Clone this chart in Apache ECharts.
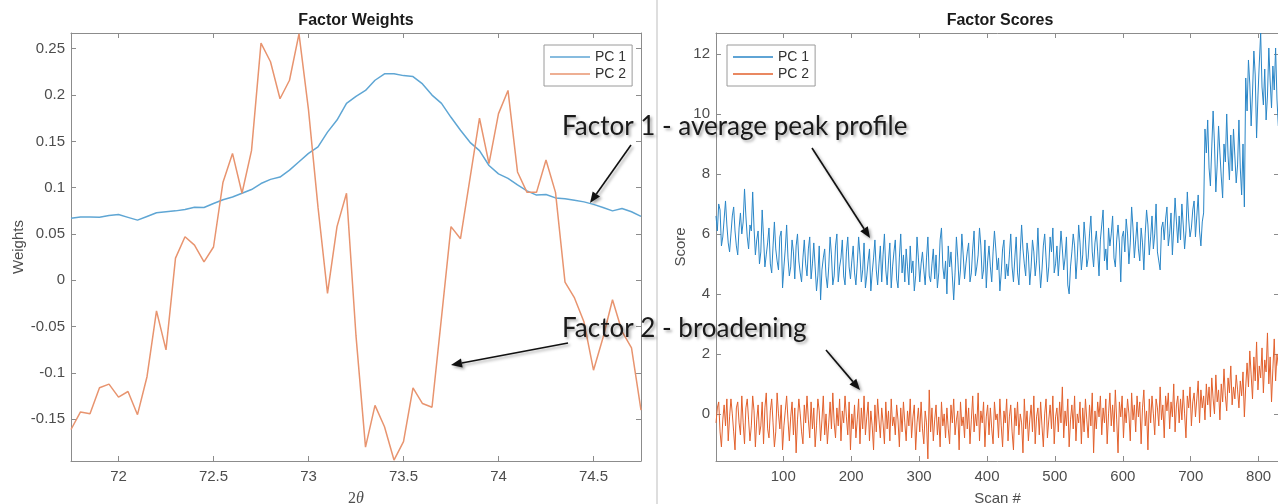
<!DOCTYPE html>
<html>
<head>
<meta charset="utf-8">
<script src="https://cdn.jsdelivr.net/npm/echarts@6/dist/echarts.min.js"></script>
<style>
  html, body { margin: 0; padding: 0; background: #fff; }
  #chart { width: 1278px; height: 504px; }
</style>
</head>
<body>
<div id="chart"></div>
<script>
// left panel: factor weights vs 2-theta
var twoTheta = [71.75, 71.8, 71.85, 71.9, 71.95, 72, 72.05, 72.1, 72.15, 72.2,
  72.25, 72.3, 72.35, 72.4, 72.45, 72.5, 72.55, 72.6, 72.65, 72.7,
  72.75, 72.8, 72.85, 72.9, 72.95, 73, 73.05, 73.1, 73.15, 73.2,
  73.25, 73.3, 73.35, 73.4, 73.45, 73.5, 73.55, 73.6, 73.65, 73.7,
  73.75, 73.8, 73.85, 73.9, 73.95, 74, 74.05, 74.1, 74.15, 74.2,
  74.25, 74.3, 74.35, 74.4, 74.45, 74.5, 74.55, 74.6, 74.65, 74.7, 74.75];

var pc1Weights = [0.067, 0.0685, 0.0685, 0.068, 0.07, 0.071, 0.068, 0.065, 0.069, 0.073,
  0.074, 0.075, 0.0765, 0.079, 0.0787, 0.083, 0.087, 0.09, 0.094, 0.098,
  0.1045, 0.109, 0.1115, 0.119, 0.128, 0.137, 0.144, 0.16, 0.173, 0.191,
  0.1986, 0.205, 0.216, 0.223, 0.223, 0.221, 0.22, 0.212, 0.2, 0.191,
  0.176, 0.162, 0.149, 0.14, 0.124, 0.115, 0.11, 0.103, 0.0966, 0.092,
  0.0927, 0.089, 0.088, 0.0865, 0.0847, 0.082, 0.0787, 0.075, 0.0776, 0.074, 0.069];

var pc2Weights = [-0.161, -0.142, -0.144, -0.116, -0.112, -0.126, -0.12, -0.145, -0.104, -0.033,
  -0.075, 0.024, 0.047, 0.038, 0.02, 0.036, 0.106, 0.137, 0.094, 0.14,
  0.256, 0.236, 0.196, 0.216, 0.266, 0.184, 0.079, -0.014, 0.058, 0.094,
  -0.06, -0.18, -0.135, -0.158, -0.194, -0.174, -0.116, -0.133, -0.137, -0.04,
  0.058, 0.045, 0.11, 0.175, 0.126, 0.18, 0.205, 0.117, 0.095, 0.095,
  0.13, 0.095, -0.002, -0.019, -0.045, -0.097, -0.062, -0.021, -0.055, -0.073, -0.14];

var weightXTicks = [72, 72.5, 73, 73.5, 74, 74.5];
var weightYTicks = [-0.15, -0.1, -0.05, 0, 0.05, 0.1, 0.15, 0.2, 0.25];

// right panel: factor scores, every second scan (1, 3, 5, ... 829)
var pc1Scores = [
  6.6, 6.1, 7.0, 6.8, 5.6, 5.9, 6.5, 7.1, 6.3, 5.7,
  5.4, 6.0, 6.6, 6.9, 6.1, 5.6, 5.3, 6.2, 6.7, 6.0,
  6.4, 7.5, 6.6, 5.9, 5.5, 6.3, 6.1, 7.4, 6.2, 5.3,
  5.8, 6.1, 5.0, 5.4, 6.8, 5.9, 4.9, 5.3, 5.7, 6.2,
  5.0, 4.7, 5.6, 6.4, 5.5, 5.1, 4.8, 5.9, 6.1, 4.2,
  4.9, 5.5, 6.3, 5.2, 4.6, 4.9, 5.8, 5.4, 4.5, 5.6,
  6.0, 5.1, 4.7, 4.4, 5.2, 5.8, 5.0, 4.6, 5.5, 5.9,
  4.5, 5.0, 5.7, 4.9, 4.1, 4.6, 5.6, 3.8, 4.8, 5.2,
  5.5, 4.6, 4.2, 4.9, 5.9, 5.3, 4.3, 4.6, 5.6, 6.0,
  4.4, 4.9, 5.2, 5.8, 4.6, 4.3, 5.4, 5.9, 4.9, 4.5,
  5.1, 5.6, 4.7, 4.3, 5.0, 5.9, 5.3, 4.4, 4.8, 5.7,
  4.2, 4.6, 5.1, 5.5, 4.1, 4.7, 5.2, 5.8, 4.8, 4.3,
  5.0, 5.6, 4.4, 5.3, 6.0, 4.8, 4.3, 5.1, 5.7, 4.2,
  4.9, 5.4, 5.8, 4.5, 4.2, 5.2, 6.0, 4.7, 5.3, 4.4,
  5.5, 4.9, 4.3, 5.6, 4.7, 5.1, 4.1, 4.6, 5.9, 5.2,
  4.4, 5.0, 5.4, 4.8, 4.3, 5.2, 5.9, 4.6, 4.4, 5.0,
  5.5, 4.5, 5.3, 4.2, 4.7, 5.8, 6.2, 4.9, 4.5, 5.1,
  4.0, 5.6, 4.9, 5.4, 4.6, 3.8, 4.7, 5.9, 5.2, 4.3,
  4.8, 6.0, 5.3, 4.5, 5.0, 5.4, 5.7, 4.4, 4.7, 5.5,
  6.1, 4.6, 4.9, 5.3, 6.2, 5.6, 4.5, 4.8, 5.8, 4.2,
  5.1, 5.6, 4.9, 4.4, 5.4, 6.1, 5.5, 4.8, 5.2, 4.1,
  4.7, 5.5, 5.8, 4.5, 5.0, 4.6, 5.3, 6.0, 4.9, 4.4,
  5.2, 5.9, 4.7, 4.3, 5.4, 6.3, 5.5, 5.0, 4.6, 5.7,
  5.3, 4.3, 4.9, 5.8, 5.4, 4.6, 5.1, 6.2, 5.0, 4.2,
  4.8, 5.6, 6.0, 5.2, 4.4, 4.9, 5.9, 5.4, 6.2, 4.7,
  5.0, 5.6, 4.6, 5.3, 6.1, 5.5, 4.8, 5.2, 5.9, 4.3,
  4.0, 4.9, 5.4, 6.0, 5.6, 4.5, 5.2, 6.3, 5.7, 4.8,
  5.3, 6.4, 5.8, 4.9, 5.2, 6.0, 6.6, 5.4, 4.9, 5.7,
  6.1, 5.4, 4.6, 5.8, 6.3, 6.8, 5.1, 5.5, 4.8, 6.2,
  5.6, 6.0, 6.6, 5.2, 4.9, 5.8, 6.3, 5.7, 4.4, 5.9,
  6.1, 5.4, 6.5, 6.0, 5.0, 5.7, 6.9, 6.2, 5.2, 5.8,
  6.4, 5.5, 5.1, 6.2, 5.7, 4.8, 6.0, 6.8, 6.3, 5.3,
  5.9, 6.6, 5.5, 6.0, 7.0, 5.4, 5.1, 4.8, 6.2, 6.4,
  5.8, 6.5, 6.9, 5.6, 6.0, 6.7, 5.3, 6.2, 7.2, 6.4,
  5.7, 6.6, 5.8, 7.0, 6.3, 5.5, 6.1, 7.4, 6.5, 5.9,
  6.2, 6.8, 7.1, 5.9, 6.6, 7.3, 6.1, 5.6, 6.4, 6.7,
  9.5, 8.7, 9.8, 8.2, 7.6, 8.9, 10.1, 9.0, 7.4, 8.3,
  9.6, 8.7, 7.9, 7.2, 9.0, 8.4, 10.0, 8.6, 7.8, 9.3,
  8.1, 9.5, 8.6, 7.7, 8.3, 9.8, 8.2, 7.3, 9.0, 6.9,
  11.2, 10.1, 11.8, 11.0, 9.6, 10.7, 12.1, 11.3, 9.2, 10.6,
  11.7, 12.7, 10.9, 10.3, 11.5, 9.8, 10.6, 12.2, 11.1, 10.2,
  11.6, 10.8, 12.2, 10.5, 9.6];

var pc2Scores = [
  -0.3, 0.2, 0.4, -0.6, -1.1, -0.2, 0.3, -0.4, 0.5, -0.9,
  -0.1, 0.5, 0.0, -0.6, -1.2, 0.2, 0.4, -0.3, -0.7, 0.6,
  -0.3, -1.0, 0.2, 0.5, -0.2, -0.9, -0.4, 0.6, 0.1, -1.1,
  -0.2, 0.3, -0.7, -0.4, 0.4, -1.0, 0.2, 0.7, -0.5, -0.8,
  0.1, 0.5, -0.3, -1.1, -0.6, 0.7, 0.0, -0.5, 0.3, -1.2,
  -0.4, 0.1, 0.6, -0.2, -0.9, -0.1, 0.4, -0.7, 0.2, -1.3,
  -0.2, 0.5, 0.0, -0.6, -1.0, 0.3, -0.3, 0.6, -0.2, -0.8,
  0.4, -0.5, 0.2, -1.1, -0.4, 0.5, 0.1, -0.9, -0.2, 0.6,
  -0.7, 0.0, -1.0, -0.3, 0.4, -0.5, 0.7, -0.3, -0.8, 0.2,
  -0.4, 0.5, -0.9, 0.1, -0.3, 0.6, -0.1, -0.7, 0.4, -1.2,
  0.0, -0.5, 0.3, -0.8, -0.2, 0.5, -1.0, 0.2, -0.5, 0.6,
  -0.7, -0.1, 0.4, -0.9, 0.1, -0.4, -1.2, 0.3, -0.6, 0.5,
  -0.2, -0.8, 0.2, -0.3, -1.0, 0.4, -0.5, 0.1, -0.9, 0.5,
  -0.4, -0.1, -0.7, 0.3, -0.2, -1.1, 0.2, -0.6, 0.4, -0.3,
  -0.9, 0.1, -0.4, 0.5, -0.8, -0.1, 0.3, -1.2, -0.3, 0.2,
  -0.6, 0.4, -0.5, -1.0, 0.1, -0.3, -1.5, 0.8, -0.6, 0.2,
  -0.9, -0.2, 0.3, -0.7, -0.1, -1.1, 0.4, -0.4, 0.0, -0.8,
  0.2, -0.5, -1.0, 0.3, -0.3, 0.5, -0.7, -0.2, 0.1, -1.2,
  0.4, -0.4, -0.1, -0.8, 0.5, -0.5, 0.2, -1.0, -0.2, 0.6,
  -0.6, 0.0, -0.4, 0.7, -0.9, 0.1, -0.3, 0.4, -1.1, -0.1,
  0.3, -0.7, 0.2, -0.5, -1.0, 0.4, -0.2, 0.0, -0.8, 0.5,
  -0.4, -1.1, 0.1, -0.3, 0.5, -0.9, -0.1, 0.3, -0.6, -1.2,
  0.2, -0.4, 0.4, -0.7, 0.0, -0.3, -1.3, 0.5, -0.5, 0.1,
  -0.9, -0.2, 0.3, -0.6, 0.6, -1.0, -0.1, 0.2, -0.7, 0.4,
  -0.4, -1.1, 0.0, 0.5, -0.8, -0.2, 0.3, -0.5, 0.6, -1.0,
  -0.1, 0.2, -0.6, 0.4, -0.3, 0.9, -0.8, 0.1, -0.4, 0.5,
  -1.1, -0.2, 0.3, -0.5, 0.6, -0.9, 0.0, -0.3, 0.4, -1.0,
  0.2, -0.6, 0.5, -0.2, -0.8, 0.3, -0.4, 0.7, -1.3, 0.1,
  -0.5, 0.4, -0.1, 0.6, -0.7, 0.2, -0.3, 0.5, -1.0, 0.0,
  0.7, -0.4, 0.3, -0.6, 0.8, -0.2, -1.3, 0.4, -0.1, 0.6,
  -0.8, 0.2, -0.3, 0.5, 0.0, -0.9, 0.7, -0.2, 0.3, -0.6,
  0.6, -0.1, 0.4, -1.0, 0.2, 0.8, -0.4, 0.1, -1.2, 0.5,
  -0.3, 0.6, 0.0, -0.7, 0.5, 0.2, -0.4, 0.9, -0.2, 0.3,
  -0.8, 0.6, 0.1, 0.7, -0.5, 0.4, -0.1, 1.0, -0.6, 0.3,
  0.6, -0.3, 0.5, -0.2, 0.8, 0.0, -0.8, 0.6, 0.2, 0.9,
  -0.4, 0.4, 0.7, -0.1, 0.5, 1.1, -0.3, 0.8, 0.2, 0.6,
  -0.2, 1.0, 0.3, 0.9, -0.1, 1.2, 0.5, 0.0, 1.3, 0.4,
  0.8, -0.2, 1.0, 0.4, 1.5, 0.6, 0.1, 1.2, 0.7, 1.6,
  0.3, 0.9, 0.5, 1.3, 0.8, 0.2, 1.1, 0.6, 1.4, -0.1,
  0.9, 1.7, 0.9, 2.1, 1.3, 0.5, 1.9, 1.1, 2.4, 0.8,
  1.6, 1.2, 2.2, 0.7, 1.8, 1.4, 2.7, 1.0, 1.9, 0.4,
  1.5, 2.5, 1.1, 2.0, 1.6];

var scoreXTicks = [100, 200, 300, 400, 500, 600, 700, 800];
var scoreYTicks = [0, 2, 4, 6, 8, 10, 12];
var seriesNames = ['PC 1', 'PC 2'];

var scans = [];
for (var i = 0; i < pc1Scores.length; i++) {
    scans.push(1 + 2 * i);
}

function pairs(xs, ys) {
    return xs.map(function (x, k) { return [x, ys[k]]; });
}

var axisGray = '#8c8c8c';
var labelGray = '#4d4d4d';
var tickFont = 'Liberation Sans';

// one axis of the box; mirror axes only carry ticks
function boxAxis(grid, pos, min, max, ticks, withLabels) {
    return {
        type: 'value',
        gridIndex: grid,
        position: pos,
        min: min,
        max: max,
        axisLine: { show: true, onZero: false, lineStyle: { color: axisGray, width: 1 } },
        axisTick: { show: true, inside: true, length: 5, customValues: ticks, lineStyle: { color: axisGray } },
        axisLabel: {
            show: withLabels,
            customValues: ticks,
            color: labelGray,
            fontSize: 15,
            fontFamily: tickFont,
            margin: (pos === 'left' || pos === 'right') ? 6 : 8
        },
        splitLine: { show: false }
    };
}

var xWeights = boxAxis(0, 'bottom', 71.75, 74.75, weightXTicks, true);
xWeights.name = '{a|2}{b|θ}';
xWeights.nameLocation = 'middle';
xWeights.nameGap = 30;
xWeights.nameTextStyle = {
    rich: {
        a: { fontFamily: 'Liberation Serif', fontSize: 16, color: labelGray },
        b: { fontFamily: 'Liberation Serif', fontStyle: 'italic', fontSize: 16, color: labelGray }
    }
};
var yWeights = boxAxis(0, 'left', -0.195, 0.267, weightYTicks, true);
yWeights.name = 'Weights';
yWeights.nameLocation = 'middle';
yWeights.nameGap = 45;
yWeights.nameTextStyle = { fontFamily: tickFont, fontSize: 15, color: labelGray };

var xScores = boxAxis(1, 'bottom', 1, 830, scoreXTicks, true);
xScores.name = 'Scan #';
xScores.nameLocation = 'middle';
xScores.nameGap = 30;
xScores.nameTextStyle = { fontFamily: tickFont, fontSize: 15, color: labelGray };
var yScores = boxAxis(1, 'left', -1.57, 12.7, scoreYTicks, true);
yScores.name = 'Score';
yScores.nameLocation = 'middle';
yScores.nameGap = 28;
yScores.nameTextStyle = { fontFamily: tickFont, fontSize: 15, color: labelGray };

function legendBox(left, colors) {
    return {
        left: left,
        top: 45,
        orient: 'vertical',
        selectedMode: false,
        icon: 'rect',
        itemWidth: 40,
        itemHeight: 1.5,
        itemGap: 3,
        padding: [5, 6, 5, 6],
        backgroundColor: '#fff',
        borderColor: '#9a9a9a',
        borderWidth: 1,
        textStyle: { fontFamily: tickFont, fontSize: 14, color: '#333' },
        data: seriesNames.map(function (n, k) {
            return { name: n, itemStyle: { color: colors[k] } };
        })
    };
}

// arrow drawn as a line plus a filled head
function arrow(x1, y1, x2, y2) {
    var dx = x2 - x1, dy = y2 - y1;
    var len = Math.sqrt(dx * dx + dy * dy);
    var ux = dx / len, uy = dy / len;
    var bx = x2 - ux * 11, by = y2 - uy * 11;
    var shadow = { shadowColor: 'rgba(0,0,0,0.35)', shadowBlur: 3, shadowOffsetX: 2, shadowOffsetY: 2 };
    return {
        type: 'group',
        children: [
            {
                type: 'line',
                shape: { x1: x1, y1: y1, x2: bx, y2: by },
                style: Object.assign({ stroke: '#111', lineWidth: 1.6 }, shadow)
            },
            {
                type: 'polygon',
                shape: { points: [[x2, y2], [bx - uy * 4.5, by + ux * 4.5], [bx + uy * 4.5, by - ux * 4.5]] },
                style: Object.assign({ fill: '#111' }, shadow)
            }
        ]
    };
}

function note(text, x, y) {
    return {
        type: 'text',
        z: 100,
        style: {
            text: text,
            x: x,
            y: y,
            fill: '#1a1a1a',
            font: '26px Lato',
            textVerticalAlign: 'middle',
            textShadowColor: 'rgba(0,0,0,0.35)',
            textShadowBlur: 3,
            textShadowOffsetX: 2,
            textShadowOffsetY: 2
        }
    };
}

function panelTitle(text, x) {
    return {
        type: 'text',
        style: {
            text: text,
            x: x,
            y: 21,
            fill: '#1a1a1a',
            font: 'bold 16px "Liberation Sans"',
            textAlign: 'center',
            textVerticalAlign: 'middle'
        }
    };
}

var leftColors = ['#5fa6d4', '#e8946f'];
var rightColors = ['#2a86c7', '#e2612d'];

var chart = echarts.init(document.getElementById('chart'));
chart.setOption({
    animation: false,
    backgroundColor: '#fff',
    grid: [
        { left: 71, top: 33, width: 570, height: 428, outerBoundsMode: 'none', containLabel: false },
        { left: 716, top: 33, width: 563, height: 428, outerBoundsMode: 'none', containLabel: false }
    ],
    xAxis: [
        xWeights,
        boxAxis(0, 'top', 71.75, 74.75, weightXTicks, false),
        xScores,
        boxAxis(1, 'top', 1, 830, scoreXTicks, false)
    ],
    yAxis: [
        yWeights,
        boxAxis(0, 'right', -0.195, 0.267, weightYTicks, false),
        yScores,
        boxAxis(1, 'right', -1.57, 12.7, scoreYTicks, false)
    ],
    legend: [legendBox(544, leftColors), legendBox(727, rightColors)],
    series: [
        {
            name: seriesNames[0], type: 'line', xAxisIndex: 0, yAxisIndex: 0,
            data: pairs(twoTheta, pc1Weights), showSymbol: false, symbol: 'none',
            lineStyle: { color: leftColors[0], width: 1.5 }, itemStyle: { color: leftColors[0] }
        },
        {
            name: seriesNames[1], type: 'line', xAxisIndex: 0, yAxisIndex: 0,
            data: pairs(twoTheta, pc2Weights), showSymbol: false, symbol: 'none',
            lineStyle: { color: leftColors[1], width: 1.5 }, itemStyle: { color: leftColors[1] }
        },
        {
            name: seriesNames[0], type: 'line', xAxisIndex: 2, yAxisIndex: 2,
            data: pairs(scans, pc1Scores), showSymbol: false, symbol: 'none',
            lineStyle: { color: rightColors[0], width: 1 }, itemStyle: { color: rightColors[0] }
        },
        {
            name: seriesNames[1], type: 'line', xAxisIndex: 2, yAxisIndex: 2,
            data: pairs(scans, pc2Scores), showSymbol: false, symbol: 'none',
            lineStyle: { color: rightColors[1], width: 1 }, itemStyle: { color: rightColors[1] }
        }
    ],
    graphic: [
        { type: 'line', shape: { x1: 657, y1: 0, x2: 657, y2: 504 }, style: { stroke: '#dedede', lineWidth: 2 } },
        panelTitle('Factor Weights', 356),
        panelTitle('Factor Scores', 1000),
        note('Factor 1 - average peak profile', 562, 127),
        note('Factor 2 - broadening', 562, 329),
        arrow(631, 145, 590, 203),
        arrow(812, 148, 870, 238),
        arrow(568, 343, 451, 365),
        arrow(826, 350, 860, 390)
    ]
});
</script>
</body>
</html>
